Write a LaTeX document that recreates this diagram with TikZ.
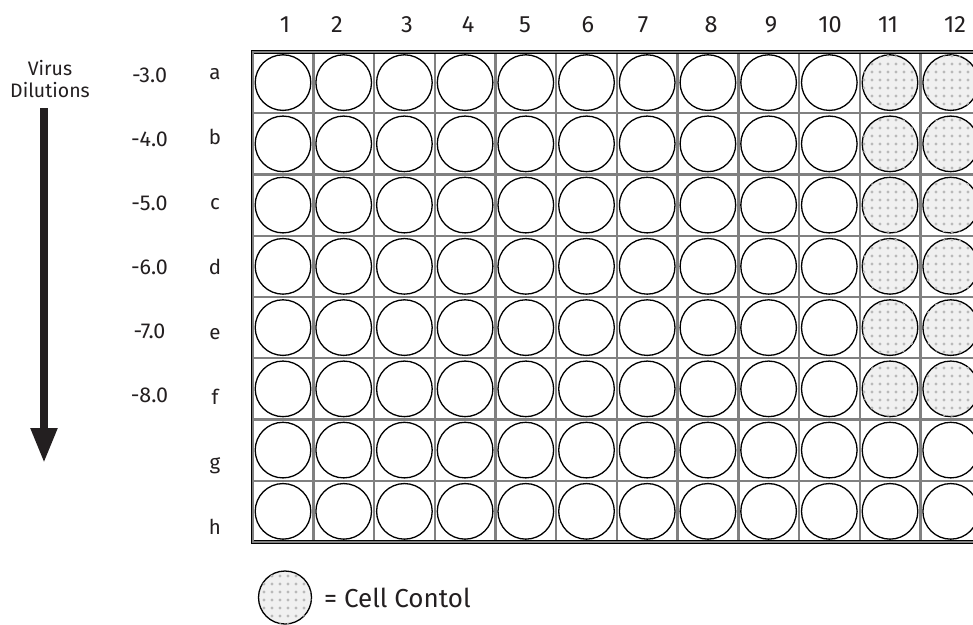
\documentclass[tikz,border=0pt]{standalone}
\usepackage{fontspec}
\setmainfont{Fira Sans}
\usetikzlibrary{arrows.meta,patterns.meta}
\definecolor{gridgray}{RGB}{128,128,128}
\definecolor{ink}{RGB}{35,31,32}
\begin{document}
\begin{tikzpicture}[x=1pt,y=-1pt,
  well/.style={circle, draw=black, line width=1.3pt, minimum size=55.6pt, inner sep=0pt, fill=white},
  ctrl/.style={well, fill=gray!12, postaction={pattern={Dots[distance=8pt,radius=1.6pt]}, pattern color=gray!55}},
  gridline/.style={draw=gridgray, line width=2.4pt},
  platebox/.style={draw=black, line width=0.9pt, double=gridgray, double distance=1.6pt},
  collab/.style={anchor=base, inner sep=0pt, text=ink, font=\fontsize{23.5}{26}\selectfont},
  rowlab/.style={anchor=base, inner sep=0pt, text=ink, font=\fontsize{20.5}{24}\selectfont},
  dillab/.style={anchor=base, inner sep=0pt, text=ink, font=\fontsize{21.5}{24}\selectfont},
  titlelab/.style={align=center, inner sep=0pt, text=ink, font=\fontsize{19.5}{22}\selectfont},
  legendlab/.style={anchor=base west, inner sep=0pt, text=ink, font=\fontsize{26}{28}\selectfont}]
\useasboundingbox (0,0) rectangle (973,624);
\clip (0,0) rectangle (973,624);
\fill[white] (0,0) rectangle (973,624);
% plate grid
\foreach \k in {1,...,11} \draw[gridline] (252.7+60.7*\k,52) -- (252.7+60.7*\k,542);
\foreach \k in {1,...,7} \draw[gridline] (252.7,52+61.25*\k) -- (990,52+61.25*\k);
\draw[platebox] (252.7,52) rectangle (990,542);
% wells
\foreach \j/\r in {1/a,2/b,3/c,4/d,5/e,6/f,7/g,8/h} {
  \foreach \i in {1,...,12} {
    \pgfmathsetmacro{\cx}{283+60.7*(\i-1)}
    \pgfmathsetmacro{\cy}{82.6+61.25*(\j-1)}
    \ifnum\i>10 \ifnum\j<7
      \node[ctrl] (w\r\i) at (\cx,\cy) {};
    \else
      \node[well] (w\r\i) at (\cx,\cy) {};
    \fi\else
      \node[well] (w\r\i) at (\cx,\cy) {};
    \fi
  }
}
% column labels
\foreach \i/\x in {1/285,2/337,3/407,4/468,5/525,6/588,7/643,8/711,9/771,10/830,11/888,12/955}
  \node[collab] (col\i) at (\x,32) {\i};
% row labels
\foreach \j/\r in {0/a,1/b,2/c,3/d,4/e,5/f,6/g,7/h}
  \node[rowlab] (row\r) at (215,79+65.1*\j) {\r};
% dilution labels
\foreach \j/\d in {0/-3.0,1/-4.0,2/-5.0,3/-6.0,4/-7.0,5/-8.0}
  \node[dillab] (dil\j) at (149.5,82+64*\j) {\d};
% title and arrow
\node[titlelab] (title) at (50,79) {Virus\\Dilutions};
\coordinate (arrtop) at (44,108);
\coordinate (arrend) at (44,463);
\draw[ink, line width=8pt, -{Triangle[length=35pt,width=25pt]}] (arrtop) -- (arrend);
% legend
\node[ctrl, minimum size=53pt] (legwell) at (285,597.5) {};
\node[legendlab] (legtext) at (324,607) {= Cell Contol};
\end{tikzpicture}
\end{document}
